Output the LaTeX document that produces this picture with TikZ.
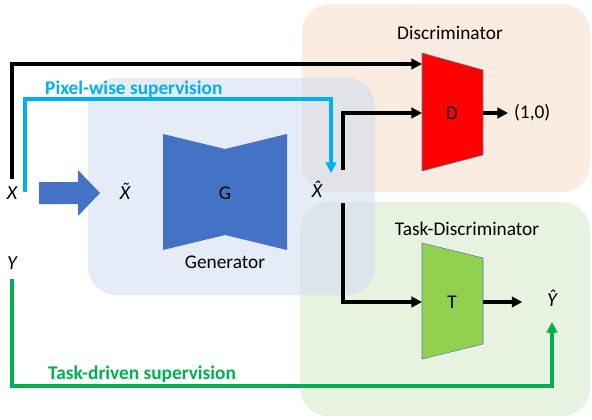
\documentclass[tikz,border=0pt]{standalone}
\usepackage{fontspec}
\setmainfont{Carlito}
\usetikzlibrary{arrows.meta}
\definecolor{genblue}{HTML}{4472C4}
\definecolor{pixcyan}{HTML}{00B0F0}
\definecolor{taskgreen}{HTML}{00B050}
\definecolor{tgreen}{HTML}{92D050}
\definecolor{edgeblue}{HTML}{5B7BA8}
\definecolor{bgorange}{HTML}{F8DCC8}
\definecolor{bggreen}{HTML}{D6E8C8}
\definecolor{bgblue}{HTML}{CFDDF0}
\begin{document}
\begin{tikzpicture}[x=0.03cm, y=-0.03cm,
  every node/.style={font=\fontsize{16.5}{19}\selectfont},
  lbl/.style={inner sep=1pt, font=\fontsize{17}{19}\selectfont\itshape},
  sup/.style={font=\fontsize{16.5}{19}\selectfont\bfseries, anchor=west, inner sep=0pt},
  arr/.style={line width=2.8pt, -{Triangle[length=9pt,width=9pt]}},
  bg/.style={rounded corners=24pt, fill opacity=0.55}]
\useasboundingbox (0,0) rectangle (592,419);
% panels
\fill[bgorange, bg] (302,4) rectangle (590,192);
\fill[bggreen, bg] (300,202) rectangle (590,416);
\fill[bgblue, bg] (88,78) rectangle (375,295);
% generator and blocks
\fill[genblue] (39,182) -- (78,182) -- (78,170) -- (100,193) -- (78,216) -- (78,204) -- (39,204) -- cycle;
\fill[genblue] (163,134) -- (225,149) -- (287,134) -- (287,250) -- (225,235) -- (163,250) -- cycle;
\filldraw[fill=red, draw=edgeblue, line width=0.5pt] (422,53) -- (483,70) -- (483,155) -- (422,171) -- cycle;
\filldraw[fill=tgreen, draw=edgeblue, line width=0.5pt] (422,243) -- (483,258) -- (483,344) -- (422,359) -- cycle;
\node (G) at (225,193) {G};
\node (gen) at (225,262) {Generator};
\node (D) at (452,113) {D};
\node (T) at (452,302) {T};
\node (disc) at (450,33) {Discriminator};
\node (tdisc) at (467,229) {Task-Discriminator};
\node[lbl] (X) at (12,193) {X};
\node[lbl] (Y) at (12,263) {Y};
\node[lbl] (Xt) at (125,191) {\accent"02DC X};
\node[lbl] (Xh) at (317,189) {\accent"02C6 X};
\node[lbl] (Yh) at (552,298) {\accent"02C6 Y};
\node[anchor=west, inner sep=5pt] (out) at (508,113) {(1,0)};
\node[sup, text=pixcyan] (pix) at (45,89) {Pixel-wise supervision};
\node[sup, text=taskgreen] (task) at (48,374) {Task-driven supervision};
% ends of connectors
\coordinate (xs) at (25,192);
\coordinate (dIn) at (422,64);
\coordinate (dIn2) at (422,113);
\coordinate (tIn) at (422,302);
\coordinate (dOut) at (483,113);
\coordinate (tOut) at (483,302);
\coordinate (xhTop) at (343,170);
\coordinate (xhBot) at (343,203);
\coordinate (cyEnd) at (331,173);
\coordinate (yEnd) at (552,322);
% connectors
\draw[arr] ([yshift=5pt]X.north) |- (dIn);
\draw[arr, pixcyan] (xs) -- ++(0,-93) -| (cyEnd);
\draw[arr] (xhTop) |- (dIn2);
\draw[arr] (xhBot) |- (tIn);
\draw[arr] (dOut) -- (out.west);
\draw[arr, shorten >=20pt] (tOut) -- (Yh.west |- tOut);
\draw[arr, taskgreen] ([yshift=-7pt]Y.south) -- ++(0,107) -| (yEnd);
\end{tikzpicture}
\end{document}
